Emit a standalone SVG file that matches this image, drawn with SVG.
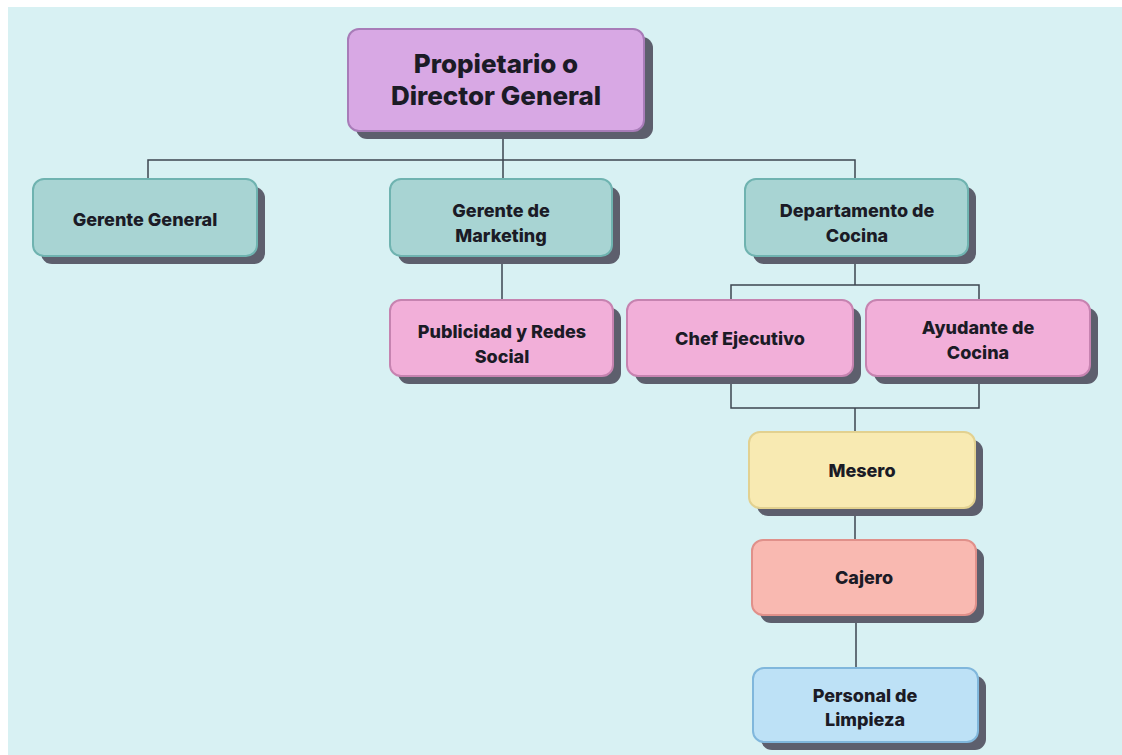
<svg xmlns="http://www.w3.org/2000/svg" width="1122" height="755" viewBox="0 0 1122 755">
<style>
.shadow{fill:#5d5f6d}
.box{stroke-width:2}
.purple{fill:#d8a8e4;stroke:#a87cb8}
.teal{fill:#a8d4d3;stroke:#6fb3b0}
.pink{fill:#f2afd9;stroke:#c683b0}
.yellow{fill:#f8eab2;stroke:#e2d190}
.salmon{fill:#f9b9b1;stroke:#e0908a}
.blue{fill:#bde1f6;stroke:#80b7dc}
text{font-family:Inter,"Liberation Sans",sans-serif;font-weight:800;fill:#1b1b26;text-anchor:middle}
.t16{font-size:18px}
.t24{font-size:26px}
.conn{fill:none;stroke:#3d4550;stroke-width:1.5}
</style>
<rect x="0" y="0" width="1122" height="755" fill="#ffffff"/>
<rect x="8" y="7" width="1114" height="748" fill="#d8f1f3"/>
<g id="connectors">
<path class="conn" d="M503,130 V179 M148,179 V160 H855 V179"/>
<path class="conn" d="M502,257 V300"/>
<path class="conn" d="M855,257 V285 M731,300 V285 H979 V300"/>
<path class="conn" d="M731,376 V408 H979 V376 M855,408 V432"/>
<path class="conn" d="M855,508 V540"/>
<path class="conn" d="M856,615 V668"/>
</g>
<g id="n-propietario">
<rect class="shadow" x="356" y="37" width="297" height="102" rx="11"/>
<rect class="box purple" x="348" y="29" width="296" height="102" rx="11"/>
<text class="t24" x="496" y="73">Propietario o</text>
<text class="t24" x="496" y="105">Director General</text>
</g>
<g id="n-gerente-general">
<rect class="shadow" x="41" y="187" width="224" height="77" rx="11"/>
<rect class="box teal" x="33" y="179" width="224" height="77" rx="11"/>
<text class="t16" x="145" y="226">Gerente General</text>
</g>
<g id="n-gerente-marketing">
<rect class="shadow" x="398" y="187" width="222" height="77" rx="11"/>
<rect class="box teal" x="390" y="179" width="222" height="77" rx="11"/>
<text class="t16" x="501" y="217">Gerente de</text>
<text class="t16" x="501" y="242">Marketing</text>
</g>
<g id="n-departamento-cocina">
<rect class="shadow" x="753" y="187" width="223" height="77" rx="11"/>
<rect class="box teal" x="745" y="179" width="223" height="77" rx="11"/>
<text class="t16" x="857" y="217">Departamento de</text>
<text class="t16" x="857" y="242">Cocina</text>
</g>
<g id="n-publicidad">
<rect class="shadow" x="398" y="308" width="223" height="76" rx="11"/>
<rect class="box pink" x="390" y="300" width="223" height="76" rx="11"/>
<text class="t16" x="502" y="338">Publicidad y Redes</text>
<text class="t16" x="502" y="363">Social</text>
</g>
<g id="n-chef">
<rect class="shadow" x="635" y="308" width="226" height="76" rx="11"/>
<rect class="box pink" x="627" y="300" width="226" height="76" rx="11"/>
<text class="t16" x="740" y="345">Chef Ejecutivo</text>
</g>
<g id="n-ayudante">
<rect class="shadow" x="874" y="308" width="224" height="76" rx="11"/>
<rect class="box pink" x="866" y="300" width="224" height="76" rx="11"/>
<text class="t16" x="978" y="334">Ayudante de</text>
<text class="t16" x="978" y="359">Cocina</text>
</g>
<g id="n-mesero">
<rect class="shadow" x="757" y="440" width="226" height="76" rx="11"/>
<rect class="box yellow" x="749" y="432" width="226" height="76" rx="11"/>
<text class="t16" x="862" y="477">Mesero</text>
</g>
<g id="n-cajero">
<rect class="shadow" x="760" y="548" width="224" height="75" rx="11"/>
<rect class="box salmon" x="752" y="540" width="224" height="75" rx="11"/>
<text class="t16" x="864" y="584">Cajero</text>
</g>
<g id="n-limpieza">
<rect class="shadow" x="761" y="676" width="225" height="74" rx="11"/>
<rect class="box blue" x="753" y="668" width="225" height="74" rx="11"/>
<text class="t16" x="865" y="702">Personal de</text>
<text class="t16" x="865" y="726">Limpieza</text>
</g>
</svg>
